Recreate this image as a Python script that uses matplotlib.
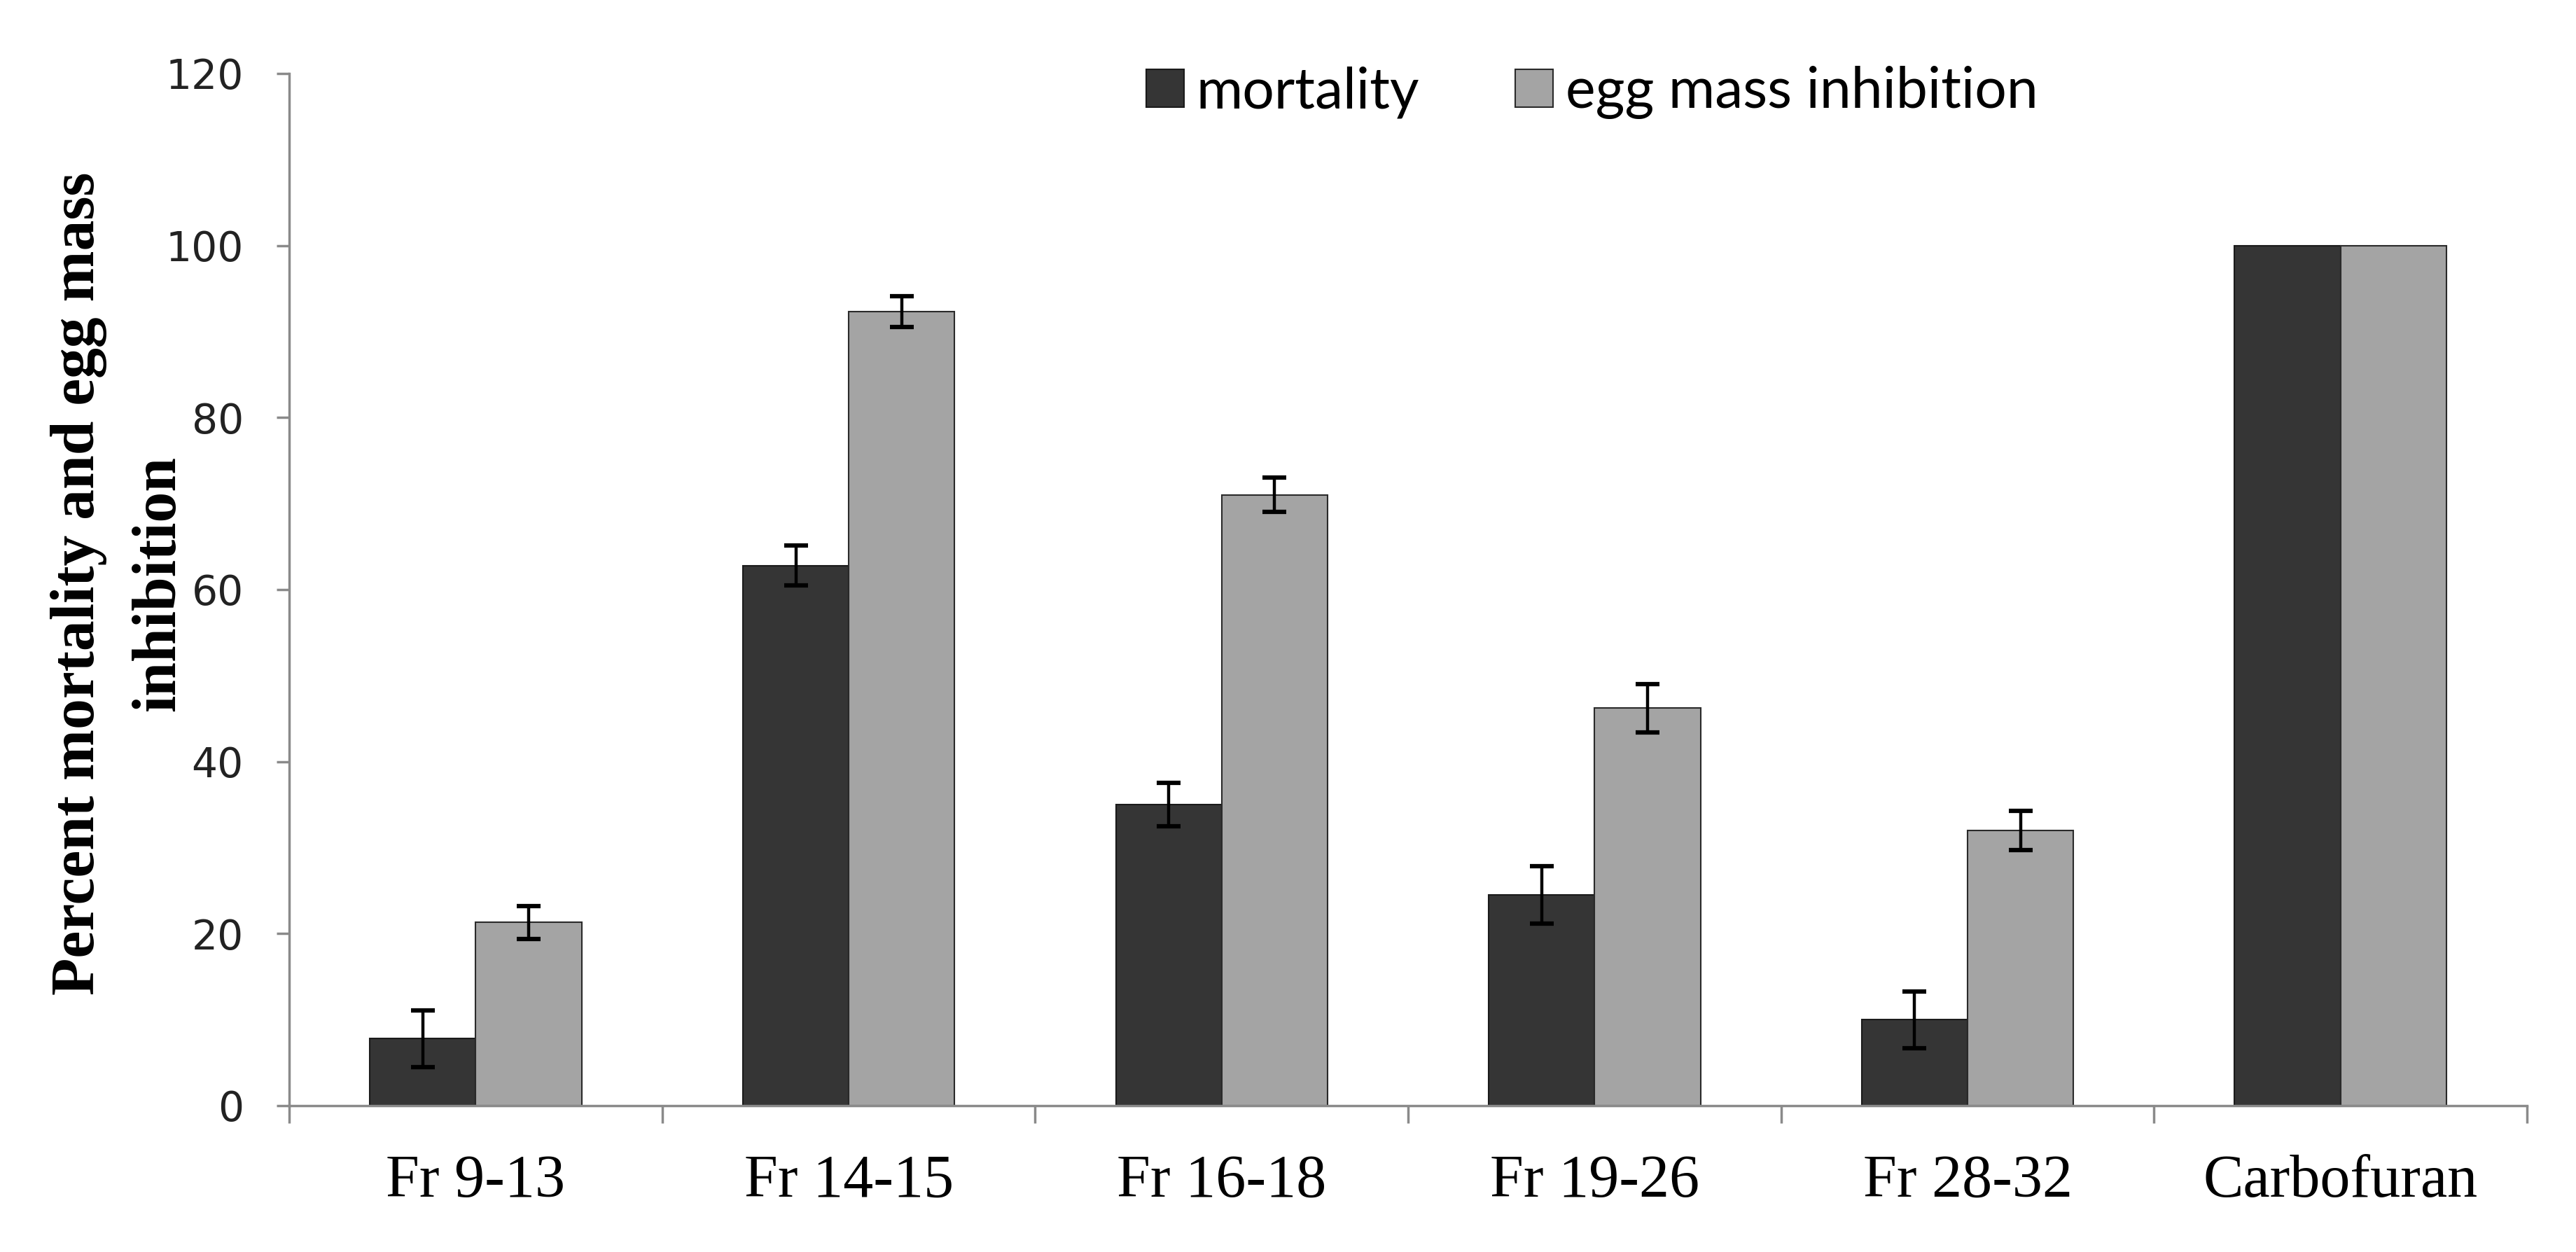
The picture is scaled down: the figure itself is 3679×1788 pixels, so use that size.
import numpy as np
import matplotlib
matplotlib.use('Agg')
import matplotlib.pyplot as plt

# data
groups = ['Fr 9-13', 'Fr 14-15', 'Fr 16-18', 'Fr 19-26', 'Fr 28-32', 'Carbofuran']
mortality = [7.8, 62.8, 35.0, 24.5, 10.0, 100.0]
mortality_err = [3.3, 2.3, 2.5, 3.3, 3.3, 0.0]
egg_inhib = [21.3, 92.3, 71.0, 46.2, 32.0, 100.0]
egg_err = [1.9, 1.8, 2.0, 2.8, 2.3, 0.0]

x = np.arange(len(groups))
w = 0.284

fig = plt.figure(figsize=(36.79, 17.88), dpi=100)
ax = fig.add_axes([0.1123, 0.1169, 0.8687, 0.8244])

ax.bar(x - w/2, mortality, w, color='#353535', edgecolor='#1a1a1a', linewidth=1.5,
       label='mortality', zorder=2)
ax.bar(x + w/2, egg_inhib, w, color='#a4a4a4', edgecolor='#2a2a2a', linewidth=1.5,
       label='egg mass inhibition', zorder=2)

# error bars only where there is an error
m_idx = [i for i in range(len(groups)) if mortality_err[i] > 0]
e_idx = [i for i in range(len(groups)) if egg_err[i] > 0]
ax.errorbar(x[m_idx] - w/2, [mortality[i] for i in m_idx], yerr=[mortality_err[i] for i in m_idx],
            fmt='none', ecolor='black', elinewidth=3.2, capsize=12, capthick=4.5, zorder=3)
ax.errorbar(x[e_idx] + w/2, [egg_inhib[i] for i in e_idx], yerr=[egg_err[i] for i in e_idx],
            fmt='none', ecolor='black', elinewidth=3.2, capsize=12, capthick=4.5, zorder=3)

ax.set_xlim(-0.5, len(groups) - 0.5)
ax.set_ylim(0, 120)
ax.set_yticks(np.arange(0, 121, 20))
ax.set_xticks(x)
ax.set_xticklabels(groups, fontfamily='Liberation Serif', fontsize=62)
ax.set_xticks(np.arange(-0.5, len(groups), 1), minor=True)

for s in ['top', 'right']:
    ax.spines[s].set_visible(False)
for s in ['left', 'bottom']:
    ax.spines[s].set_color('#8a8a8a')
    ax.spines[s].set_linewidth(2.5)

ax.tick_params(axis='y', direction='out', length=13, width=2.5, color='#8a8a8a',
               pad=34, labelsize=42, labelcolor='#222222')
ax.tick_params(axis='x', which='major', length=0, pad=50)
ax.tick_params(axis='x', which='minor', direction='out', length=18, width=2.5, color='#8a8a8a')
for lab in ax.get_yticklabels():
    lab.set_fontfamily('DejaVu Sans')

# y label in two lines, placed separately so the short 2nd line sits by the ticks
ylab_font = dict(fontfamily='Liberation Serif', fontweight='bold', fontsize=63,
                 rotation=90, ha='center', va='center', transform=ax.transAxes)
ax.text(-0.094, 0.506, 'Percent mortality and egg mass', **ylab_font)
ax.text(-0.058, 0.506, 'inhibition', **ylab_font)

leg = fig.legend(loc='center', bbox_to_anchor=(0.618, 0.926), ncol=2, frameon=False,
                 prop={'family': 'Lato', 'size': 58}, handlelength=0.67, handleheight=0.67,
                 handletextpad=0.22, columnspacing=1.7)

fig.savefig('out.png', dpi=100)
